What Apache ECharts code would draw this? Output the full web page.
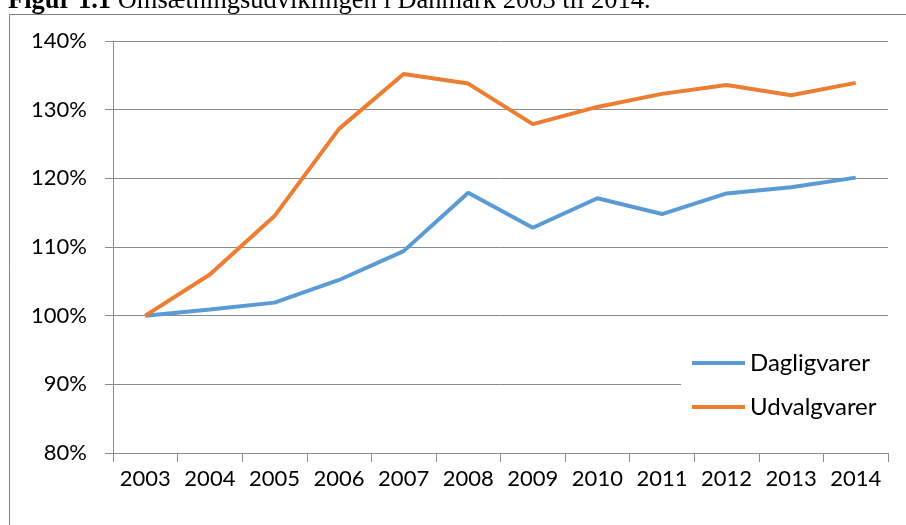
<!DOCTYPE html>
<html>
<head>
<meta charset="utf-8">
<script src="https://cdn.jsdelivr.net/npm/echarts@6/dist/echarts.min.js"></script>
<style>
html,body{margin:0;padding:0;background:#fff;}
#chart{width:906px;height:525px;}
</style>
</head>
<body>
<div id="chart"></div>
<script>
const categories = ['2003','2004','2005','2006','2007','2008','2009','2010','2011','2012','2013','2014'];
const dagligvarer = [100, 100.9, 101.9, 105.2, 109.4, 117.9, 112.8, 117.1, 114.8, 117.8, 118.7, 120.1];
const udvalgvarer = [100, 106.0, 114.5, 127.2, 135.2, 133.8, 127.9, 130.4, 132.3, 133.6, 132.1, 133.9];
const yTicks = {min: 80, max: 140, interval: 10};
const seriesNames = ['Dagligvarer', 'Udvalgvarer'];

const FONT = 'Lato';
const chart = echarts.init(document.getElementById('chart'), null, {renderer: 'canvas'});
chart.setOption({
  animation: false,
  backgroundColor: '#fff',
  graphic: [
    {type: 'rect', shape: {x: 9.5, y: 14.5, width: 1000, height: 700}, style: {fill: 'none', stroke: '#808080', lineWidth: 1}, z: 0},
    {type: 'text', x: 8, y: -12, style: {
      text: '{b|Figur 1.1} Omsætningsudviklingen i Danmark 2003 til 2014.',
      font: '26.5px "Liberation Serif"', fill: '#000',
      rich: {b: {fontWeight: 'bold', fontFamily: 'Liberation Serif', fontSize: 26.5}}
    }}
  ],
  grid: {left: 113, right: 18, top: 41, bottom: 72, containLabel: false},
  legend: {
    orient: 'vertical', left: 681, top: 339,
    padding: [12, 12, 12, 11], backgroundColor: '#fff', itemGap: 20,
    itemWidth: 53, itemHeight: 4, icon: 'rect',
    textStyle: {fontFamily: FONT, fontSize: 24, color: '#000'},
    data: seriesNames
  },
  xAxis: {
    type: 'category', data: categories, boundaryGap: true,
    axisLine: {lineStyle: {color: '#8c8c8c', width: 1}},
    axisTick: {show: true, length: 9, lineStyle: {color: '#8c8c8c'}},
    axisLabel: {fontFamily: FONT, fontSize: 22, color: '#000', margin: 15, interval: 0}
  },
  yAxis: {
    type: 'value', min: yTicks.min, max: yTicks.max, interval: yTicks.interval,
    axisLine: {show: true, lineStyle: {color: '#8c8c8c', width: 1}},
    axisTick: {show: true, length: 8, lineStyle: {color: '#8c8c8c'}},
    splitLine: {lineStyle: {color: '#8c8c8c', width: 1}},
    axisLabel: {fontFamily: FONT, fontSize: 22, color: '#000', margin: 26, formatter: '{value}%'}
  },
  series: [
    {name: seriesNames[0], type: 'line', data: dagligvarer, showSymbol: false, symbol: 'none',
     lineStyle: {color: '#5B9BD5', width: 4}, itemStyle: {color: '#5B9BD5'}},
    {name: seriesNames[1], type: 'line', data: udvalgvarer, showSymbol: false, symbol: 'none',
     lineStyle: {color: '#ED7D31', width: 4}, itemStyle: {color: '#ED7D31'}}
  ]
});
</script>
</body>
</html>
